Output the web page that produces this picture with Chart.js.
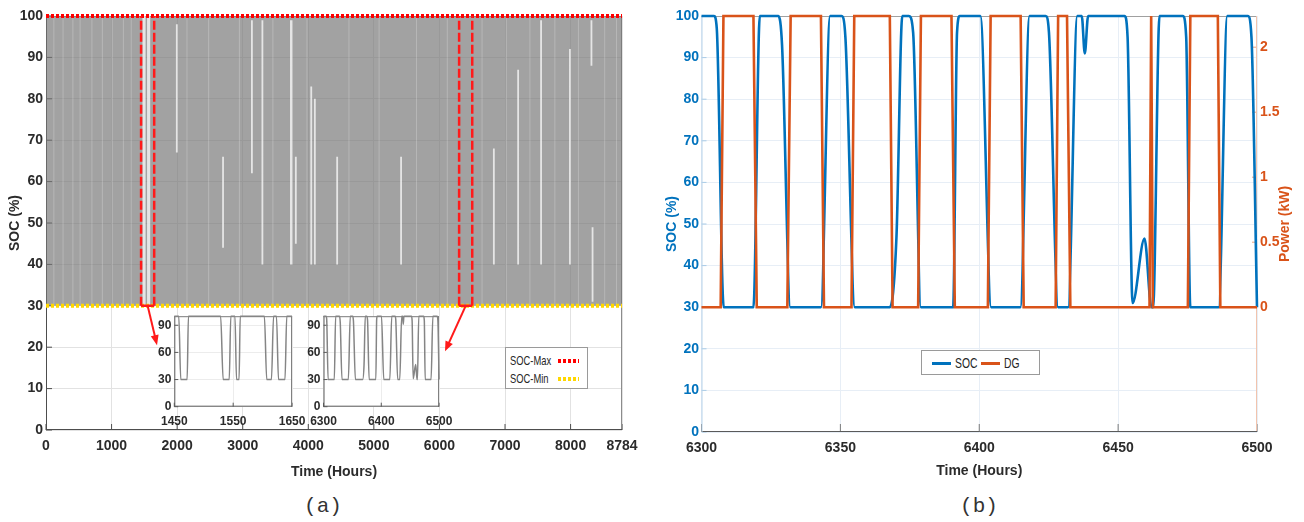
<!DOCTYPE html>
<html>
<head>
<meta charset="utf-8">
<title>Battery SOC and DG power</title>
<script src="https://cdn.jsdelivr.net/npm/chart.js@4.4.1/dist/chart.umd.min.js"></script>
<style>
    html, body { margin: 0; padding: 0; background: #fff; }
    #fig { position: relative; width: 1304px; height: 522px; overflow: hidden; }
    #fig canvas { position: absolute; }
    .legend {
        position: absolute; background: #fff; border: 1px solid #9a9a9a;
        font-family: 'Liberation Sans', Arial, sans-serif; color: #262626;
    }
    .legend span { position: absolute; white-space: nowrap; line-height: 1; transform-origin: 0 50%; }
    .legend i { position: absolute; display: block; }
    .caption {
        position: absolute; width: 80px; text-align: center; line-height: 24px;
        font-family: 'Liberation Mono', 'DejaVu Sans Mono', monospace; font-size: 21px; color: #333;
    }
</style>
</head>
<body>
<div id="fig">
    <canvas id="chartA" width="650" height="490" style="left:0;top:0"></canvas>
    <canvas id="inset1" width="165" height="125" style="left:148px;top:306px"></canvas>
    <canvas id="inset2" width="160" height="125" style="left:300px;top:306px"></canvas>
    <canvas id="chartB" width="654" height="490" style="left:650px;top:0"></canvas>

    <div class="legend" style="left:505px;top:347px;width:81px;height:40px;">
        <span style="left:4px;top:6px;font-size:13px;transform:scaleX(0.72)">SOC-Max</span>
        <i style="left:52px;top:11px;width:21px;height:4px;background:repeating-linear-gradient(90deg,#ff0000 0 3px,transparent 3px 5px)"></i>
        <span style="left:4px;top:24px;font-size:13px;transform:scaleX(0.72)">SOC-Min</span>
        <i style="left:52px;top:29px;width:21px;height:4px;background:repeating-linear-gradient(90deg,#ffd700 0 3px,transparent 3px 5px)"></i>
    </div>
    <div class="legend" style="left:921px;top:350px;width:117px;height:23px;">
        <i style="left:10px;top:11px;width:19px;height:3px;background:#0072BD"></i>
        <span style="left:33px;top:5px;font-size:14px;transform:scaleX(0.74)">SOC</span>
        <i style="left:59px;top:11px;width:19px;height:3px;background:#D95319"></i>
        <span style="left:82px;top:5px;font-size:14px;transform:scaleX(0.74)">DG</span>
    </div>

    <div class="caption" style="left:283px;top:495px">(a)</div>
    <div class="caption" style="left:939px;top:495px">(b)</div>
</div>

<script>
// Panel (a): one year of battery SOC
const yearTicks = [0, 1000, 2000, 3000, 4000, 5000, 6000, 7000, 8000, 8784];
const socPctTicks = [0, 10, 20, 30, 40, 50, 60, 70, 80, 90, 100];
const limitHours = [0, 8784];
const socMaxLimit = [100, 100];
const socMinLimit = [30, 30];

// hourly cycling is too dense to resolve, it fills the band between the limits
const bandHours = [0, 8784];
const bandHigh = [100, 100];
const bandLow = [30, 30];

// lighter streaks inside the band
const streakHours = [1485, 1505, 1555, 1575, 1995, 2700, 3140, 3300, 3735, 3745, 3810, 4045, 4100, 4440, 5415, 6830, 7200, 7550, 7990, 8318, 8335];
const streakLow = [30, 30, 30, 30, 67, 44, 62, 40, 40, 40, 45, 40, 40, 40, 40, 40, 40, 40, 40, 88, 31];
const streakHigh = [100, 100, 100, 100, 98, 66, 99, 99, 99, 99, 66, 83, 80, 66, 66, 68, 87, 99, 92, 99, 49];

// faint full-height streaks (texture of the dense cycling)
const faintHours = [120, 260, 410, 520, 700, 860, 1010, 1180, 1300, 2150, 2480, 2950, 3460, 3980, 4620, 5080, 5650, 6120, 6650, 7020, 7380, 7760, 8120, 8520, 8700];

// zoomed windows and the arrows pointing to their insets
const zoomStart = [1450, 6300];
const zoomEnd = [1650, 6500];
const arrowTipHours = [1693, 6085];
const arrowTipSoc = [20.5, 19];

// Inset 1: hours 1450 - 1650
const inset1Hours = [1450, 1457.6, 1461, 1471.8, 1474, 1528.7, 1533, 1543.3, 1546, 1553, 1555.7, 1560, 1562, 1603, 1607, 1615, 1618.6, 1623.5, 1627, 1638, 1641, 1650];
const inset1Soc = [100, 100, 30, 30, 100, 100, 30, 30, 100, 100, 30, 30, 100, 100, 30, 30, 100, 100, 30, 30, 100, 100];
const inset1Ticks = [1450, 1550, 1650];
const inset2Ticks = [6300, 6400, 6500];
const insetSocTicks = [0, 30, 60, 90];

// Panel (b): hours 6300 - 6500 (also used by inset 2)
const socHours = [6300, 6304.5, 6305.5, 6308, 6318.7, 6321, 6327.7, 6329, 6332, 6343, 6346.3, 6350.4, 6351.8, 6355.2,
    6367.8, 6370.2, 6372.3, 6374.7, 6376.2, 6379, 6390.6, 6392, 6393, 6400.4, 6404.3, 6414.8, 6418.1, 6423.9,
    6425.1, 6428.4, 6432, 6435.3, 6436.9, 6438, 6439.2, 6452.3, 6453.4, 6455.2, 6459.5, 6462, 6462.6, 6464.9,
    6473.3, 6474.5, 6476, 6486.2, 6489.3, 6496.7, 6498, 6500];
const socValues = [100, 100, 97, 30, 30, 100, 100, 93, 30, 30, 100, 100, 95, 30,
    30, 47, 100, 100, 96, 30, 30, 96, 100, 100, 30, 30, 100, 100,
    96, 30, 30, 100, 100, 91, 100, 100, 95, 31, 46.5, 30, 30, 100,
    100, 95, 30, 30, 100, 100, 95, 30];
const dgHours = [6300, 6306.9, 6307.9, 6318.7, 6319.9, 6330.9, 6332.1, 6343, 6344.1, 6354, 6355, 6367.8, 6368.8,
    6378, 6379, 6390, 6391.2, 6403.1, 6404.1, 6414.9, 6416, 6427.5, 6428.4, 6431.6, 6432.8, 6461.3, 6461.9,
    6462.5, 6475.1, 6476, 6485.9, 6486.8, 6500];
const dgValues = [0, 0, 2.24, 2.24, 0, 0, 2.24, 2.24, 0, 0, 2.24, 2.24, 0,
    0, 2.24, 2.24, 0, 0, 2.24, 2.24, 0, 0, 2.24, 2.24, 0, 0, 2.24,
    0, 0, 2.24, 2.24, 0, 0];
const zoomTicks = [6300, 6350, 6400, 6450, 6500];
const powerTicks = [0, 0.5, 1, 1.5, 2];

// power axis: top at 2.24 kW, 0 kW lined up with 30 % SOC
const powerMax = 2.24;
const powerMin = -powerMax * 30 / 70;

// Helpers
const sans = "'Liberation Sans Narrow', 'Liberation Sans', Arial, sans-serif";
const xy = (xs, ys) => xs.map((x, i) => ({ x: x, y: ys[i] }));
const fixedTicks = (values) => (scale) => { scale.ticks = values.map((v) => ({ value: v })); };
const plain = (v) => String(v);

function verticalSegments(hours, lows, highs) {
    let pts = [];
    hours.forEach((h, i) => {
        pts.push({ x: h, y: lows[i] }, { x: h, y: highs[i] }, { x: h, y: null });
    });
    return pts;
}

let windowSides = [], windowBase = [];
zoomStart.forEach((s, i) => {
    let e = zoomEnd[i];
    windowSides.push({ x: s, y: 30 }, { x: s, y: 100 }, { x: s, y: null }, { x: e, y: 30 }, { x: e, y: 100 }, { x: e, y: null });
    windowBase.push({ x: s, y: 30 }, { x: e, y: 30 }, { x: e, y: null });
});

// Plugins
// white plot background (insets cover the main chart)
const plotBackground = {
    id: "plotBackground",
    beforeDraw(chart, args, opts) {
        if (!opts.color) return;
        const a = chart.chartArea;
        chart.ctx.save();
        chart.ctx.fillStyle = opts.color;
        chart.ctx.fillRect(a.left, a.top, a.width, a.height);
        chart.ctx.restore();
    },
};

// box around the plot plus MATLAB style inward tick marks
const framePlugin = {
    id: "frame",
    beforeDatasetsDraw(chart, args, opts) {
        const ctx = chart.ctx, a = chart.chartArea;
        const line = (color, x1, y1, x2, y2) => {
            ctx.strokeStyle = color;
            ctx.beginPath();
            ctx.moveTo(x1, y1);
            ctx.lineTo(x2, y2);
            ctx.stroke();
        };
        ctx.save();
        ctx.lineWidth = 1;
        (opts.marks || []).forEach((m) => {
            const scale = chart.scales[m.axis];
            scale.ticks.forEach((t) => {
                const p = scale.getPixelForValue(t.value);
                if (m.side === "bottom") line(m.color, p, a.bottom, p, a.bottom - m.len);
                if (m.side === "left") line(m.color, a.left, p, a.left + m.len, p);
                if (m.side === "right") line(m.color, a.right, p, a.right - m.len, p);
            });
        });
        line(opts.top, a.left, a.top + 0.5, a.right, a.top + 0.5);
        line(opts.right, a.right - 0.5, a.top, a.right - 0.5, a.bottom);
        line(opts.bottom, a.left, a.bottom - 0.5, a.right, a.bottom - 0.5);
        line(opts.left, a.left + 0.5, a.top, a.left + 0.5, a.bottom);
        ctx.restore();
    },
};

// red arrows from the zoom windows to the insets
const arrowPlugin = {
    id: "zoomArrows",
    afterDatasetsDraw(chart) {
        const ctx = chart.ctx, x = chart.scales.x, y = chart.scales.y;
        ctx.save();
        ctx.strokeStyle = ctx.fillStyle = "#ff1a1a";
        ctx.lineWidth = 2;
        zoomStart.forEach((s, i) => {
            const x0 = x.getPixelForValue((s + zoomEnd[i]) / 2), y0 = y.getPixelForValue(30);
            const x1 = x.getPixelForValue(arrowTipHours[i]), y1 = y.getPixelForValue(arrowTipSoc[i]);
            const ang = Math.atan2(y1 - y0, x1 - x0), c = Math.cos(ang), sn = Math.sin(ang);
            ctx.beginPath();
            ctx.moveTo(x0, y0);
            ctx.lineTo(x1 - 8 * c, y1 - 8 * sn);
            ctx.stroke();
            ctx.beginPath();
            ctx.moveTo(x1, y1);
            ctx.lineTo(x1 - 10 * c + 4 * sn, y1 - 10 * sn - 4 * c);
            ctx.lineTo(x1 - 10 * c - 4 * sn, y1 - 10 * sn + 4 * c);
            ctx.closePath();
            ctx.fill();
        });
        ctx.restore();
    },
};

// right axis title, read bottom to top like MATLAB's yyaxis right label
const rightTitle = {
    id: "rightTitle",
    afterDraw(chart, args, opts) {
        const s = chart.scales[opts.axis], ctx = chart.ctx;
        ctx.save();
        ctx.translate(s.right - opts.offset, (s.top + s.bottom) / 2);
        ctx.rotate(-Math.PI / 2);
        ctx.font = "bold 14px " + sans;
        ctx.fillStyle = opts.color;
        ctx.textAlign = "center";
        ctx.textBaseline = "middle";
        ctx.fillText(opts.text, 0, 0);
        ctx.restore();
    },
};

Chart.defaults.animation = false;
Chart.defaults.events = [];
Chart.defaults.plugins.legend.display = false;
Chart.defaults.plugins.tooltip.enabled = false;
Chart.defaults.elements.point.radius = 0;

const tickFont = { family: sans, size: 14, weight: "bold" };
const axisFont = { family: sans, size: 14, weight: "bold" };
const insetFont = { family: sans, size: 12, weight: "bold" };

/*
 * Panel (a)
 */
new Chart(document.getElementById("chartA"), {
    type: "line",
    data: {
        datasets: [
            { label: "band low", data: xy(bandHours, bandLow), borderWidth: 0, order: 7 },
            { label: "SOC", data: xy(bandHours, bandHigh), borderWidth: 0, fill: "-1", backgroundColor: "rgba(118, 118, 118, 0.68)", order: 6 },
            { label: "texture", data: verticalSegments(faintHours, faintHours.map(() => 30), faintHours.map(() => 100)), borderColor: "rgba(255, 255, 255, 0.22)", borderWidth: 1, order: 5 },
            { label: "streaks", data: verticalSegments(streakHours, streakLow, streakHigh), borderColor: "rgba(255, 255, 255, 0.72)", borderWidth: 1.8, order: 4 },
            { label: "SOC-Max", data: xy(limitHours, socMaxLimit), borderColor: "#ff0000", borderWidth: 4, borderDash: [3, 2], borderCapStyle: "butt", clip: 4, order: 2 },
            { label: "SOC-Min", data: xy(limitHours, socMinLimit), borderColor: "#ffd700", borderWidth: 4, borderDash: [3, 2], borderCapStyle: "butt", clip: 4, order: 2 },
            { label: "zoom sides", data: windowSides, borderColor: "#ff1a1a", borderWidth: 2.5, borderDash: [9, 3], clip: 4, order: 1 },
            { label: "zoom base", data: windowBase, borderColor: "#ff1a1a", borderWidth: 2.5, clip: 4, order: 1 },
        ],
    },
    options: {
        responsive: false,
        layout: { padding: { left: 0, top: 16, right: 28, bottom: 0 } },
        scales: {
            x: {
                type: "linear", min: 0, max: 8784,
                afterBuildTicks: fixedTicks(yearTicks),
                afterFit: (s) => { s.height = 60; },
                ticks: { font: tickFont, color: "#2b2b2b", padding: 7.6, autoSkip: false, maxRotation: 0, callback: plain },
                grid: { color: "#e2e2e2", drawTicks: false },
                border: { display: false },
                title: { display: true, text: "Time (Hours)", font: axisFont, color: "#2b2b2b", padding: { top: 0, bottom: 9.9 } },
            },
            y: {
                min: 0, max: 100,
                afterBuildTicks: fixedTicks(socPctTicks),
                afterFit: (s) => { s.width = 46; },
                ticks: { font: tickFont, color: "#2b2b2b", padding: 3, callback: plain },
                grid: { color: "#e2e2e2", drawTicks: false },
                border: { display: false },
                title: { display: true, text: "SOC (%)", font: axisFont, color: "#2b2b2b", padding: { top: 6.6, bottom: 0 } },
            },
        },
        plugins: {
            frame: {
                top: "#8c8c8c", right: "#8c8c8c", bottom: "#4d4d4d", left: "#4d4d4d",
                marks: [
                    { axis: "x", side: "bottom", color: "#4d4d4d", len: 6 },
                    { axis: "y", side: "left", color: "#4d4d4d", len: 6 },
                ],
            },
        },
    },
    plugins: [framePlugin, arrowPlugin],
});

/*
 * Insets of panel (a)
 */
function insetChart(id, hours, soc, ticks, yWidth, padRight) {
    return new Chart(document.getElementById(id), {
        type: "line",
        data: {
            datasets: [
                { label: "SOC", data: xy(hours, soc), borderColor: "#858585", borderWidth: 1.5, cubicInterpolationMode: "monotone", clip: 2 },
            ],
        },
        options: {
            responsive: false,
            layout: { padding: { left: 0, top: 7.4, right: padRight, bottom: 0 } },
            scales: {
                x: {
                    type: "linear", min: ticks[0], max: ticks[ticks.length - 1],
                    afterBuildTicks: fixedTicks(ticks),
                    afterFit: (s) => { s.height = 24.3; },
                    ticks: { font: insetFont, color: "#2b2b2b", padding: 7.6, autoSkip: false, maxRotation: 0, callback: plain },
                    grid: { color: "#ececec", drawTicks: false },
                    border: { display: false },
                },
                y: {
                    min: 0, max: 100,
                    afterBuildTicks: fixedTicks(insetSocTicks),
                    afterFit: (s) => { s.width = yWidth; },
                    ticks: { font: insetFont, color: "#2b2b2b", padding: 3, callback: plain },
                    grid: { color: "#ececec", drawTicks: false },
                    border: { display: false },
                },
            },
            plugins: {
                plotBackground: { color: "#ffffff" },
                frame: {
                    top: "#7a7a7a", right: "#7a7a7a", bottom: "#5a5a5a", left: "#5a5a5a",
                    marks: [
                        { axis: "x", side: "bottom", color: "#5a5a5a", len: 4 },
                        { axis: "y", side: "left", color: "#5a5a5a", len: 4 },
                    ],
                },
            },
        },
        plugins: [plotBackground, framePlugin],
    });
}

insetChart("inset1", inset1Hours, inset1Soc, inset1Ticks, 26.3, 15.7);
insetChart("inset2", socHours, socValues, inset2Ticks, 23.5, 18.3);

/*
 * Panel (b)
 */
new Chart(document.getElementById("chartB"), {
    type: "line",
    data: {
        datasets: [
            { label: "SOC", data: xy(socHours, socValues), yAxisID: "y", borderColor: "#0072BD", borderWidth: 2.6, cubicInterpolationMode: "monotone", clip: 3, order: 1 },
            { label: "DG", data: xy(dgHours, dgValues), yAxisID: "y2", borderColor: "#D95319", borderWidth: 2.6, clip: 3, order: 0 },
        ],
    },
    options: {
        responsive: false,
        layout: { padding: { left: 0, top: 16, right: 0, bottom: 0 } },
        scales: {
            x: {
                type: "linear", min: 6300, max: 6500,
                afterBuildTicks: fixedTicks(zoomTicks),
                afterFit: (s) => { s.height = 58; },
                ticks: { font: tickFont, color: "#2b2b2b", padding: 7.6, autoSkip: false, maxRotation: 0, callback: plain },
                grid: { color: "#e7eef6", drawTicks: false },
                border: { display: false },
                title: { display: true, text: "Time (Hours)", font: axisFont, color: "#2b2b2b", padding: { top: 0, bottom: 10.9 } },
            },
            y: {
                position: "left", min: 0, max: 100,
                afterBuildTicks: fixedTicks(socPctTicks),
                afterFit: (s) => { s.width = 51.5; },
                ticks: { font: tickFont, color: "#0072BD", padding: 2.5, callback: plain },
                grid: { color: "#e7eef6", drawTicks: false },
                border: { display: false },
                title: { display: true, text: "SOC (%)", font: axisFont, color: "#0072BD", padding: { top: 13.6, bottom: 0 } },
            },
            y2: {
                position: "right", min: powerMin, max: powerMax,
                afterBuildTicks: fixedTicks(powerTicks),
                afterFit: (s) => { s.width = 47; },
                ticks: { font: tickFont, color: "#D95319", padding: 3, callback: plain },
                grid: { display: false, drawTicks: false },
                border: { display: false },
            },
        },
        plugins: {
            frame: {
                top: "#a0a0a0", right: "#f2c4ad", bottom: "#5a5a5a", left: "#b7d3ea",
                marks: [
                    { axis: "x", side: "bottom", color: "#7a7a7a", len: 8 },
                    { axis: "y", side: "left", color: "#a9cbe6", len: 5 },
                    { axis: "y2", side: "right", color: "#e9a283", len: 5 },
                ],
            },
            rightTitle: { axis: "y2", text: "Power (kW)", color: "#D95319", offset: 19 },
        },
    },
    plugins: [framePlugin, rightTitle],
});
</script>
</body>
</html>
